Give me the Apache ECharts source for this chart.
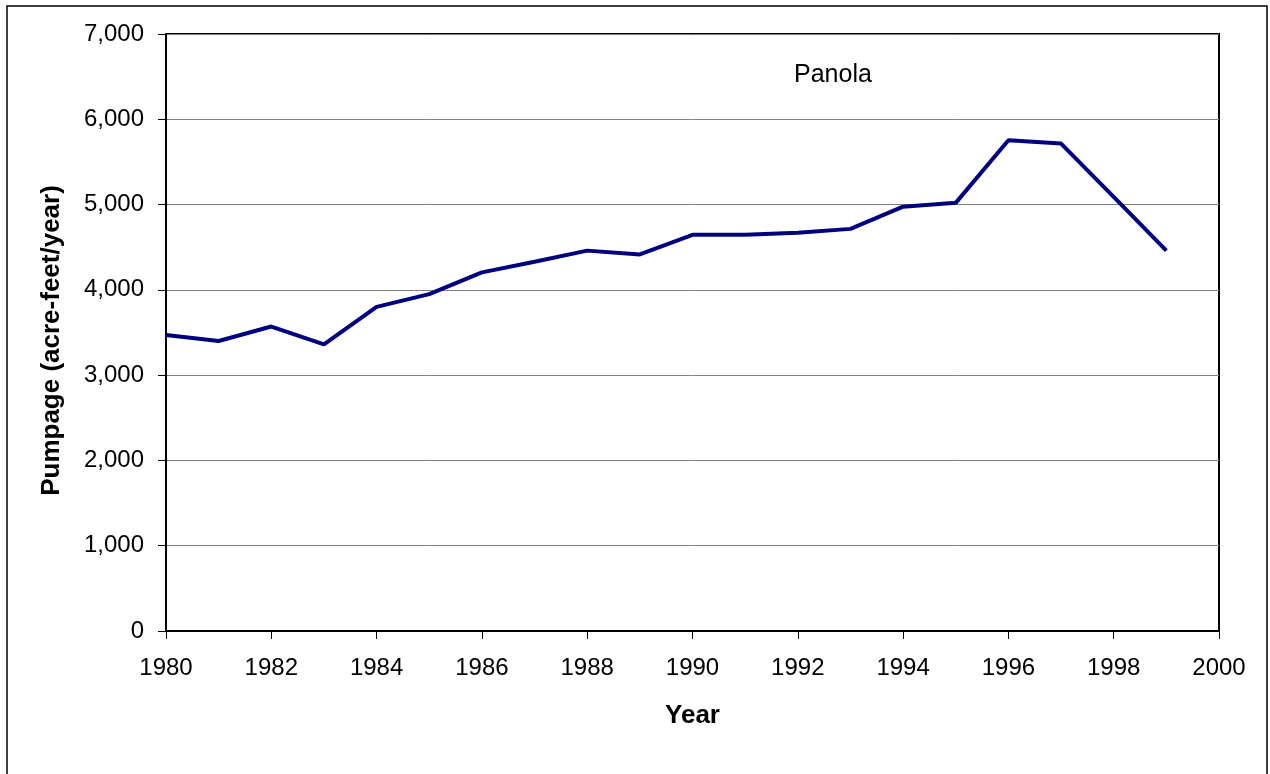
<!DOCTYPE html>
<html>
<head>
<meta charset="utf-8">
<script src="https://cdn.jsdelivr.net/npm/echarts@6/dist/echarts.min.js"></script>
<style>
    html, body { margin: 0; padding: 0; background: #fff; }
    #chart { width: 1270px; height: 774px; }
</style>
</head>
<body>
<div id="chart"></div>
<script>
    // Panola county pumpage
    const years = [1980, 1981, 1982, 1983, 1984, 1985, 1986, 1987, 1988, 1989,
                   1990, 1991, 1992, 1993, 1994, 1995, 1996, 1997, 1998, 1999]
    const pumpage = [3470, 3400, 3570, 3360, 3800, 3950, 4205, 4330, 4460, 4415,
                     4645, 4645, 4670, 4715, 4975, 5020, 5755, 5715, 5090, 4460]

    const chart = echarts.init(document.getElementById('chart'))
    const font = '"Liberation Sans", Arial, sans-serif'

    chart.setOption({
        animation: false,
        textStyle: { fontFamily: font },
        grid: {
            left: 166, top: 34, right: 51, bottom: 143,
            show: true,
            borderColor: '#000',
            borderWidth: 2
        },
        graphic: [
            {
                type: 'rect',
                shape: { x: 7, y: 6, width: 1260, height: 800 },
                style: { fill: 'none', stroke: '#000', lineWidth: 1.5 },
                silent: true
            },
            {
                type: 'text',
                left: 794, top: 63,
                style: { text: 'Panola', fontSize: 25, fill: '#000', fontFamily: font }
            }
        ],
        xAxis: {
            type: 'value',
            min: 1980, max: 2000, interval: 2,
            name: 'Year',
            nameLocation: 'middle',
            nameGap: 72,
            nameTextStyle: { fontSize: 26, fontWeight: 'bold', color: '#000', fontFamily: font },
            axisLine: { lineStyle: { color: '#000', width: 2 } },
            axisTick: { length: 8, lineStyle: { color: '#000', width: 1 } },
            axisLabel: {
                fontSize: 24, color: '#000', margin: 25, fontFamily: font,
                formatter: v => String(v)
            },
            splitLine: { show: false }
        },
        yAxis: {
            type: 'value',
            min: 0, max: 7000, interval: 1000,
            name: 'Pumpage (acre-feet/year)',
            nameLocation: 'middle',
            nameGap: 101,
            nameTextStyle: {
                fontSize: 26, fontWeight: 'bold', color: '#000', fontFamily: font,
                padding: [0, 16, 0, 0]
            },
            axisLine: { show: true, lineStyle: { color: '#000', width: 2 } },
            axisTick: { show: true, length: 8, lineStyle: { color: '#000', width: 1 } },
            axisLabel: {
                fontSize: 24, color: '#000', margin: 22, fontFamily: font,
                formatter: v => v.toLocaleString('en-US')
            },
            splitLine: { lineStyle: { color: '#808080', width: 1 } }
        },
        series: [{
            type: 'line',
            data: years.map((y, i) => [y, pumpage[i]]),
            showSymbol: false,
            lineStyle: { color: '#000080', width: 4 },
            itemStyle: { color: '#000080' }
        }]
    })
</script>
</body>
</html>
